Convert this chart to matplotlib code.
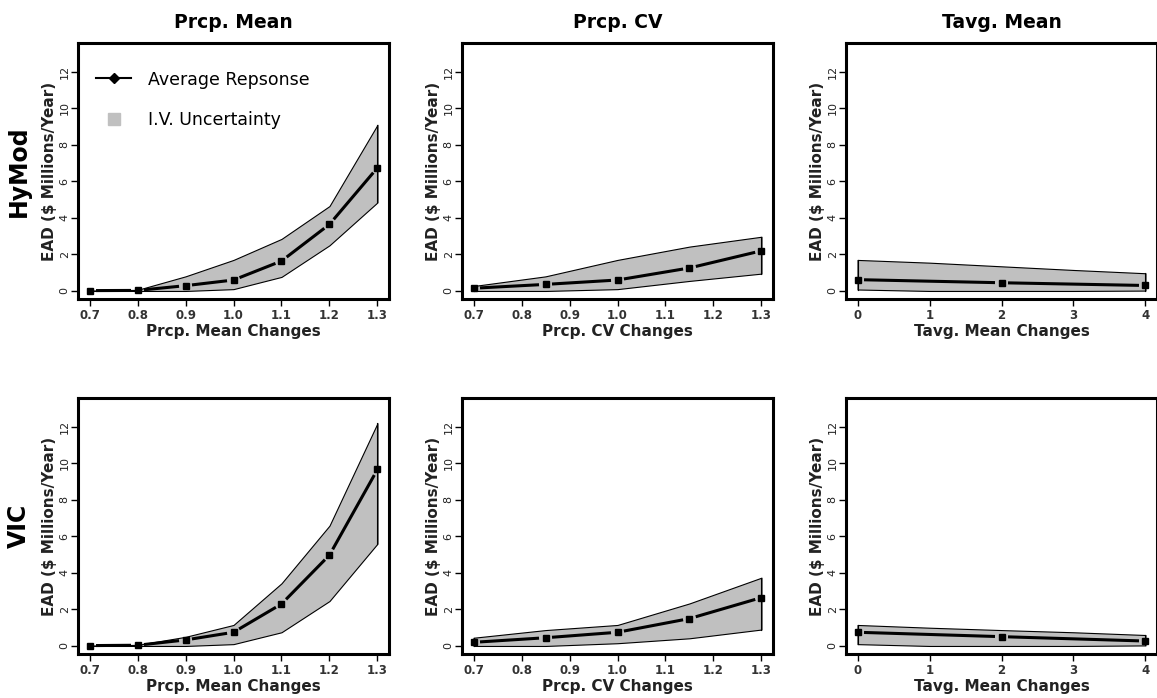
import numpy as np
import matplotlib
matplotlib.use("Agg")
import matplotlib.pyplot as plt
from matplotlib.lines import Line2D

# ---- data ----
pm_x = [0.7, 0.8, 0.9, 1.0, 1.1, 1.2, 1.3]
cv_x = [0.7, 0.85, 1.0, 1.15, 1.3]
ta_x = [0, 2, 4]
ta_band_x = [0, 1, 2, 3, 4]

# HyMod
hy_pm_mean = [0.02, 0.03, 0.29, 0.6, 1.64, 3.65, 6.75]
hy_pm_up = [0.02, 0.06, 0.8, 1.7, 2.85, 4.65, 9.1]
hy_pm_lo = [0.0, 0.0, 0.0, 0.1, 0.77, 2.5, 4.85]

hy_cv_mean = [0.15, 0.36, 0.6, 1.26, 2.2]
hy_cv_up = [0.27, 0.8, 1.7, 2.43, 2.97]
hy_cv_lo = [0.0, 0.0, 0.1, 0.55, 0.95]

hy_ta_mean = [0.62, 0.45, 0.3]
hy_ta_up = [1.7, 1.55, 1.35, 1.15, 0.97]
hy_ta_lo = [0.08, 0.0, 0.0, 0.0, 0.02]

# VIC
vic_pm_mean = [0.02, 0.04, 0.33, 0.75, 2.3, 4.98, 9.67]
vic_pm_up = [0.02, 0.06, 0.5, 1.15, 3.43, 6.59, 12.2]
vic_pm_lo = [0.0, 0.0, 0.0, 0.1, 0.75, 2.46, 5.6]

vic_cv_mean = [0.2, 0.45, 0.75, 1.5, 2.65]
vic_cv_up = [0.45, 0.87, 1.15, 2.33, 3.74]
vic_cv_lo = [0.0, 0.0, 0.15, 0.42, 0.9]

vic_ta_mean = [0.75, 0.51, 0.27]
vic_ta_up = [1.15, 1.0, 0.87, 0.75, 0.6]
vic_ta_lo = [0.1, 0.0, 0.0, 0.0, 0.03]

col_titles = ["Prcp. Mean", "Prcp. CV", "Tavg. Mean"]
row_titles = ["HyMod", "VIC"]
x_labels = ["Prcp. Mean Changes", "Prcp. CV Changes", "Tavg. Mean Changes"]
yticks = [0, 2, 4, 6, 8, 10, 12]
pm_ticks = [0.7, 0.8, 0.9, 1.0, 1.1, 1.2, 1.3]
ta_ticks = [0, 1, 2, 3, 4]

panels = [
    [(pm_x, hy_pm_mean, pm_x, hy_pm_up, hy_pm_lo),
     (cv_x, hy_cv_mean, cv_x, hy_cv_up, hy_cv_lo),
     (ta_x, hy_ta_mean, ta_band_x, hy_ta_up, hy_ta_lo)],
    [(pm_x, vic_pm_mean, pm_x, vic_pm_up, vic_pm_lo),
     (cv_x, vic_cv_mean, cv_x, vic_cv_up, vic_cv_lo),
     (ta_x, vic_ta_mean, ta_band_x, vic_ta_up, vic_ta_lo)],
]

W, H = 1157, 698
fig = plt.figure(figsize=(W / 100, H / 100), dpi=100)

lefts = [78, 462, 846]
tops = [43, 398]
aw, ah = 311, 256


def gapped_line(ax, x, y, gap=6.5, **kw):
    # R type="b": segments stop short of the points
    pts = ax.transData.transform(np.column_stack([x, y]))
    inv = ax.transData.inverted()
    for p0, p1 in zip(pts[:-1], pts[1:]):
        d = p1 - p0
        L = np.hypot(*d)
        if L <= 2 * gap:
            continue
        u = d / L
        a = inv.transform(p0 + u * gap)
        b = inv.transform(p1 - u * gap)
        ax.plot([a[0], b[0]], [a[1], b[1]], **kw)


for r in range(2):
    for c in range(3):
        ax = fig.add_axes([lefts[c] / W, 1 - (tops[r] + ah) / H, aw / W, ah / H])
        xm, ym, xb, up, lo = panels[r][c]
        if c == 2:
            ax.set_xlim(-0.16, 4.16)
            ax.set_xticks(ta_ticks)
            ax.set_xticklabels([str(t) for t in ta_ticks])
        else:
            ax.set_xlim(0.676, 1.324)
            ax.set_xticks(pm_ticks)
            ax.set_xticklabels(["%.1f" % t for t in pm_ticks])
        ax.set_ylim(-0.44, 13.58)
        ax.set_yticks(yticks)
        ax.set_yticklabels([str(t) for t in yticks], fontsize=8, color="#222222")
        for lbl in ax.get_yticklabels():
            lbl.set_rotation(90)
            lbl.set_va("center")

        ax.fill_between(xb, lo, up, facecolor="#c0c0c0", edgecolor="black",
                        linewidth=0.8, zorder=1)
        # closing vertical edges of the band
        ax.plot([xb[0], xb[0]], [lo[0], up[0]], color="black", lw=0.8, zorder=1)
        ax.plot([xb[-1], xb[-1]], [lo[-1], up[-1]], color="black", lw=0.8, zorder=1)

        gapped_line(ax, xm, ym, color="black", lw=2.2, solid_capstyle="butt", zorder=3)
        ax.plot(xm, ym, ls="none", marker="s", ms=4.8, color="black", zorder=4)

        for sp in ax.spines.values():
            sp.set_linewidth(2.2)
        ax.tick_params(axis="both", direction="out", length=5, width=1.0)
        ax.tick_params(axis="y", pad=1)
        ax.tick_params(axis="x", pad=2)
        for lbl in ax.get_xticklabels():
            lbl.set_fontsize(8.5)
            lbl.set_fontweight("bold")
            lbl.set_color("#333333")

        ax.set_xlabel(x_labels[c], fontsize=11, fontweight="bold", labelpad=2,
                      color="#222222")
        ax.set_ylabel("EAD ($ Millions/Year)", fontsize=11, fontweight="bold",
                      labelpad=2, color="#222222")
        if r == 0:
            ax.set_title(col_titles[c], fontsize=13.5, fontweight="bold", pad=10.5)
        if c == 0:
            fig.text(19 / W, 1 - (tops[r] + ah / 2) / H, row_titles[r],
                     rotation=90, fontsize=17, fontweight="bold",
                     ha="center", va="center")

        if r == 0 and c == 0:
            handles = [
                Line2D([], [], color="black", lw=1.5, marker="D", ms=5),
                Line2D([], [], ls="none", marker="s", ms=8, color="#c0c0c0"),
            ]
            ax.legend(handles, ["Average Repsonse", "I.V. Uncertainty"],
                      loc="upper left", bbox_to_anchor=(0.02, 0.94),
                      frameon=False, fontsize=12.5, handlelength=2.0,
                      handletextpad=1.0, labelspacing=1.3, borderpad=0.2)

fig.savefig("out.png", dpi=100)
